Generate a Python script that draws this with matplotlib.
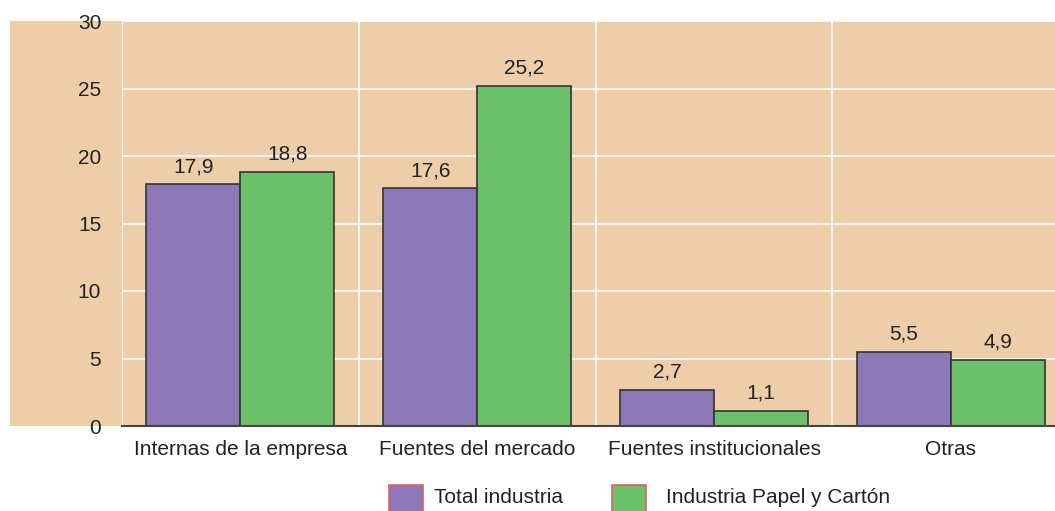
import matplotlib
matplotlib.use("Agg")
import matplotlib.pyplot as plt
from matplotlib.patches import Rectangle
import numpy as np

plt.rcParams['font.family'] = ['Liberation Sans', 'DejaVu Sans']

categories = ["Internas de la empresa", "Fuentes del mercado", "Fuentes institucionales", "Otras"]
series_names = ["Total industria", "Industria Papel y Cartón"]
total_industria = [17.9, 17.6, 2.7, 5.5]
papel_carton = [18.8, 25.2, 1.1, 4.9]
yticks = [0, 5, 10, 15, 20, 25, 30]

tan = "#EDCEA8"
purple = "#8C78B7"
green = "#6CC06A"
edge = "#333333"
text_col = "#222222"

W, H = 1055, 511
fig = plt.figure(figsize=(W / 100, H / 100), dpi=100)

# tan panel behind axes and tick labels
fig.patches.append(Rectangle((10 / W, 1 - 426 / H), 1 - 10 / W, (426 - 21) / H,
                             transform=fig.transFigure, facecolor=tan,
                             edgecolor="none", zorder=-10))

ax = fig.add_axes([122 / W, 1 - 426 / H, 1 - 122 / W, (426 - 21) / H])
ax.set_zorder(1)
ax.set_facecolor(tan)

x = np.arange(len(categories))
w = 0.397
b1 = ax.bar(x - w / 2, total_industria, w, color=purple, edgecolor=edge, linewidth=1.2, zorder=3)
b2 = ax.bar(x + w / 2, papel_carton, w, color=green, edgecolor=edge, linewidth=1.2, zorder=3)

for bars, vals in ((b1, total_industria), (b2, papel_carton)):
    for r, v in zip(bars, vals):
        ax.annotate(f"{v:.1f}".replace('.', ','),
                    (r.get_x() + r.get_width() / 2, v),
                    xytext=(0, 6), textcoords="offset points",
                    ha="center", va="bottom", fontsize=15, color=text_col)

ax.set_xlim(-0.5, 3.44)
ax.set_ylim(0, 30)
ax.set_yticks(yticks)
ax.set_yticklabels([str(t) for t in yticks])
ax.set_xticks(x)
ax.set_xticklabels(categories)
ax.set_xticks(np.arange(len(categories)) - 0.5, minor=True)
ax.tick_params(axis="both", which="both", length=0, labelsize=15, colors=text_col)
ax.tick_params(axis="y", pad=15)
ax.tick_params(axis="x", pad=10)

ax.grid(axis="y", which="major", color="white", linewidth=1.2, zorder=1)
ax.grid(axis="x", which="minor", color="white", linewidth=1.2, zorder=1)
ax.set_axisbelow(True)

for s in ("top", "right", "left"):
    ax.spines[s].set_visible(False)
ax.spines["bottom"].set_color("#444444")
ax.spines["bottom"].set_linewidth(1.5)
ax.spines["bottom"].set_zorder(4)

# legend, drawn manually at the bottom
leg_items = [(389, 434, purple, series_names[0]), (612, 666, green, series_names[1])]
for sx, tx, col, lab in leg_items:
    fig.patches.append(Rectangle((sx / W, 1 - 515 / H), 34 / W, 30 / H,
                                 transform=fig.transFigure, facecolor=col,
                                 edgecolor="#E06060", linewidth=1.2, zorder=2))
    fig.text(tx / W, 1 - 497 / H, lab, fontsize=15, color=text_col,
             ha="left", va="center")

fig.savefig("out.png", dpi=100)
